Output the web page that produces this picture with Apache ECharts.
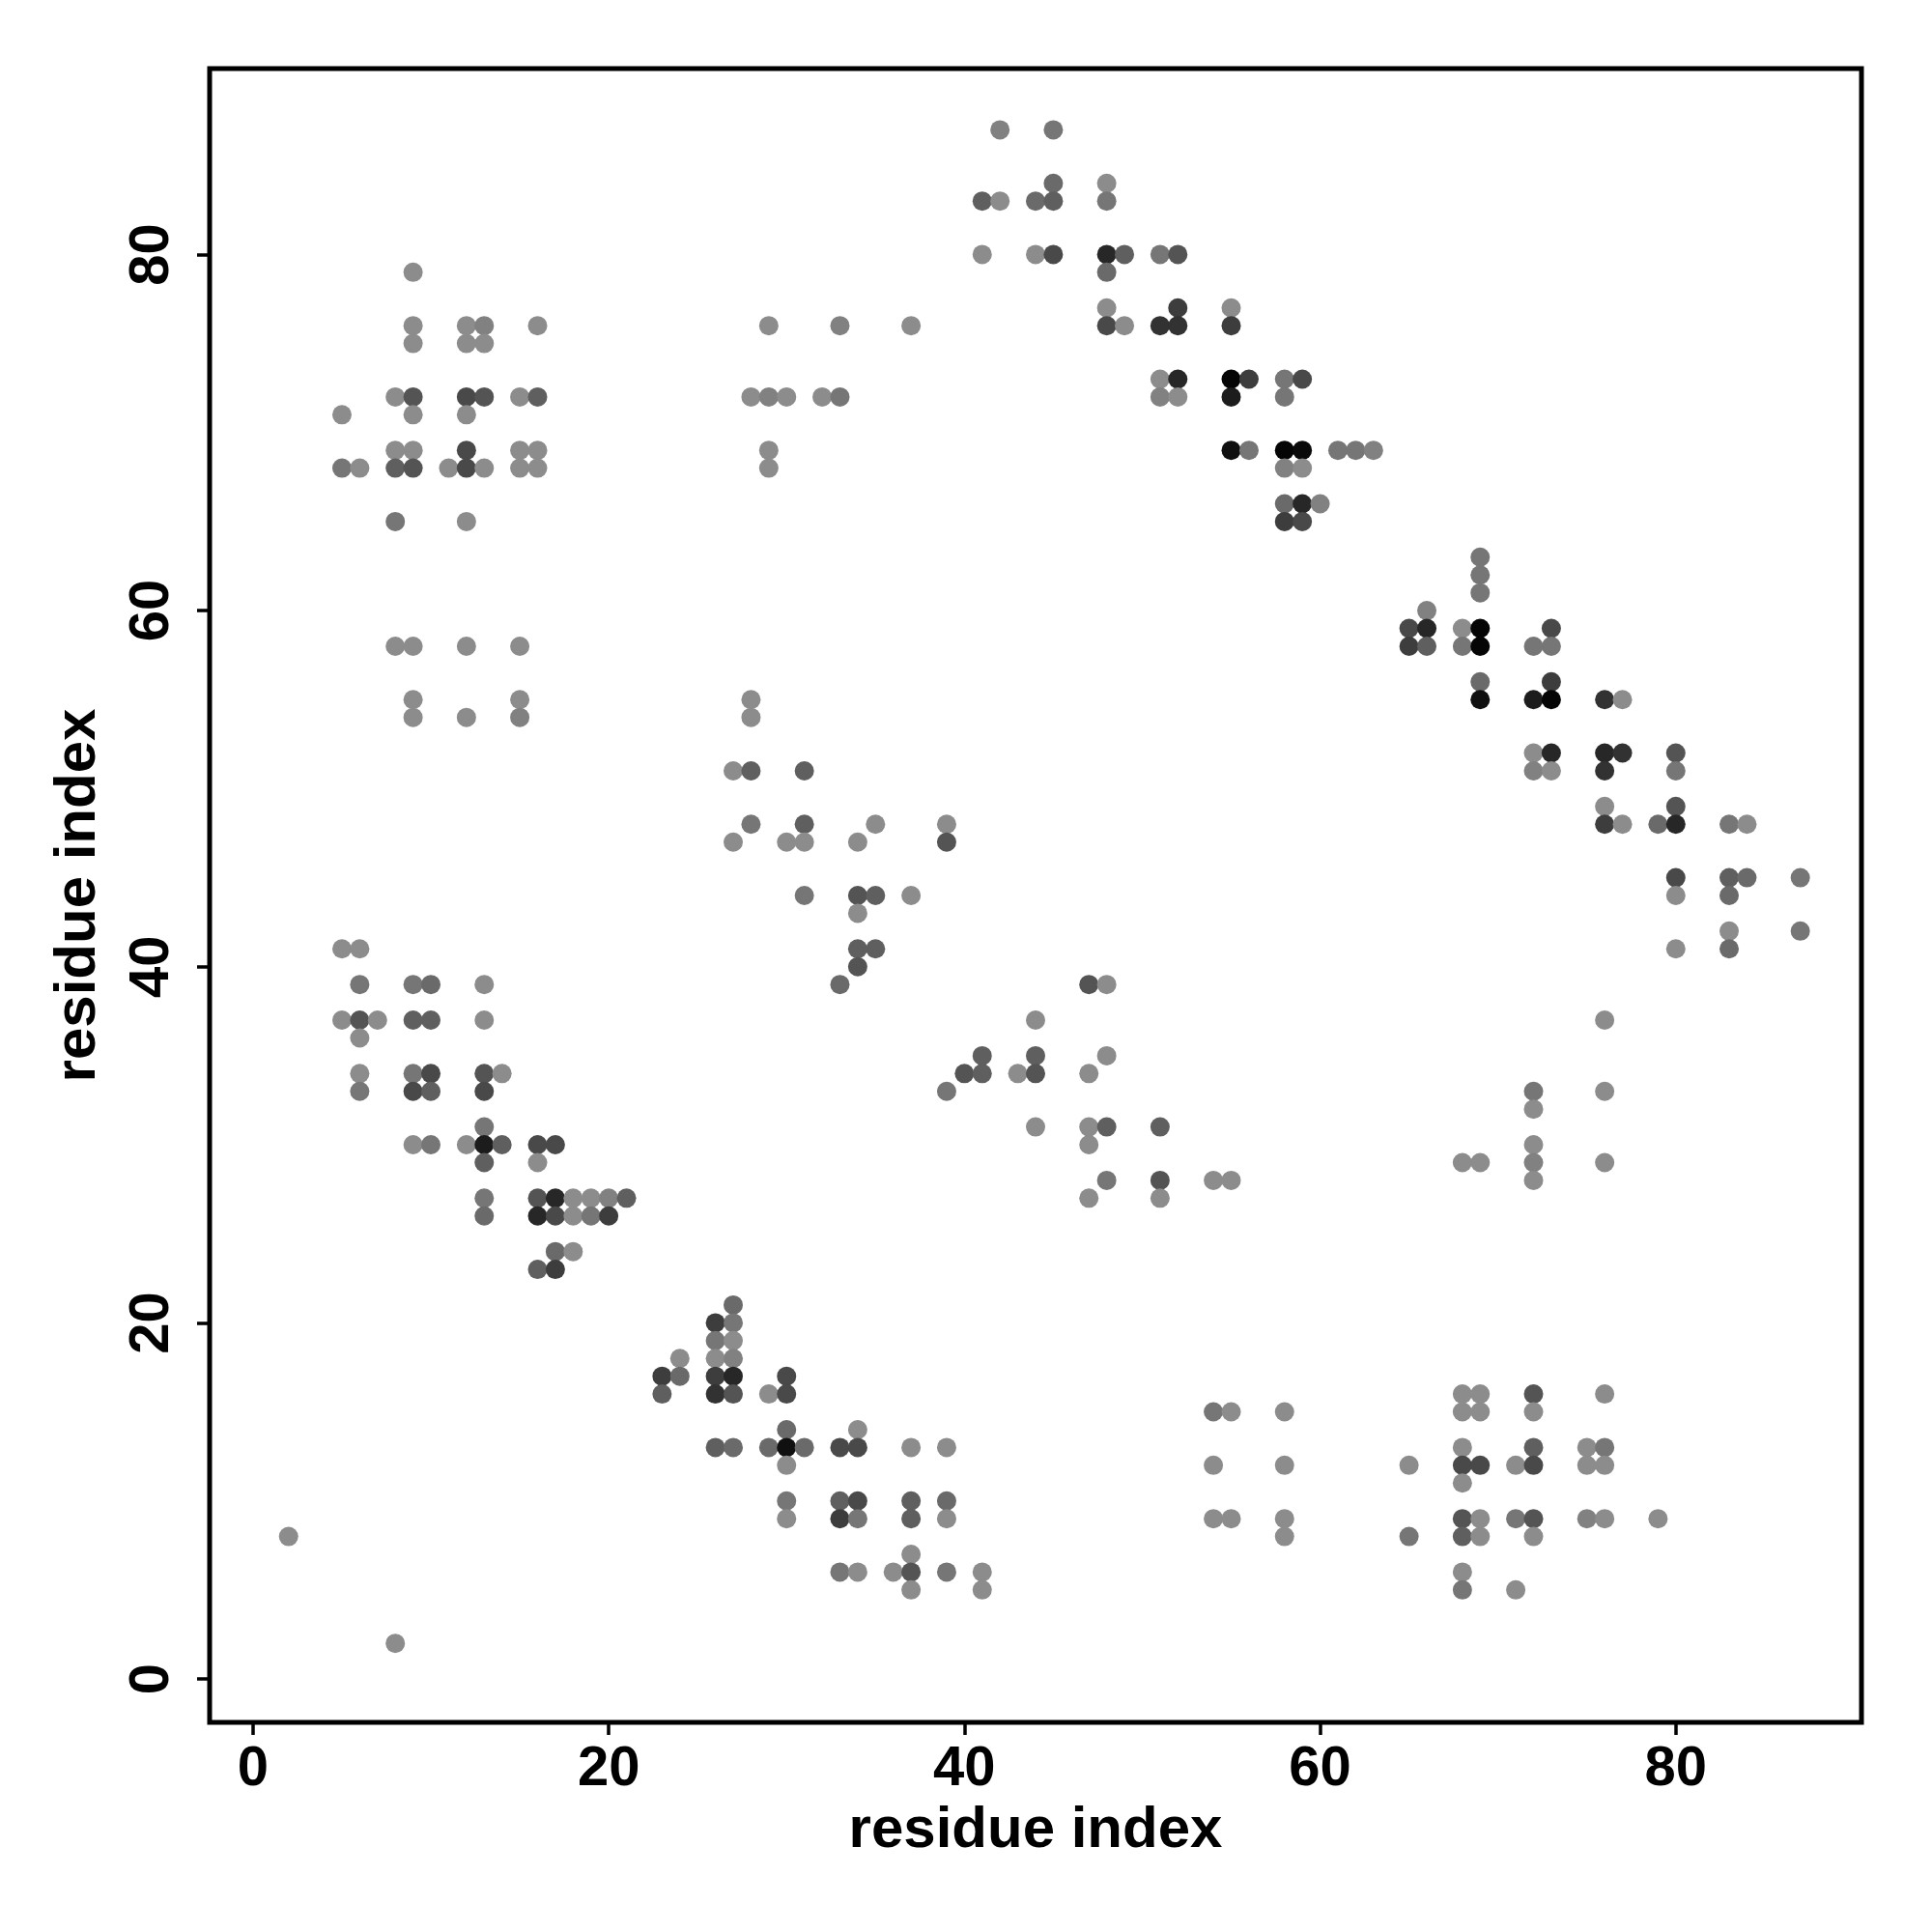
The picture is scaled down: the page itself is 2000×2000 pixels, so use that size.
<!DOCTYPE html>
<html>
<head>
<meta charset="utf-8">
<script src="https://cdn.jsdelivr.net/npm/echarts@6/dist/echarts.min.js"></script>
<style>
html,body{margin:0;padding:0;background:#fff;}
#chart{width:2000px;height:2000px;}
</style>
</head>
<body>
<div id="chart"></div>
<script>
// [residue i, residue j, contact weight]
const contacts = [
[2,8,1],
[5,71,1],[5,68,2],[5,41,1],[5,37,1],
[6,68,1],[6,41,1],[6,39,2],[6,37,3.5],[6,36,1],[6,34,1],[6,33,2],
[7,37,1],
[8,72,1],[8,69,1],[8,68,3],[8,65,2],[8,58,1],[8,2,1],
[9,79,1],[9,76,1],[9,75,1],[9,72,3.5],[9,71,1],[9,69,1],[9,68,3.5],[9,58,1],[9,55,1],[9,54,1],[9,39,2],[9,37,3],[9,34,2],[9,33,4],[9,30,1],
[10,39,2.5],[10,37,3],[10,34,4],[10,33,3],[10,30,2],
[11,68,1],
[12,76,1],[12,75,1],[12,72,4],[12,71,1],[12,69,4],[12,68,4],[12,65,1],[12,58,1],[12,54,1],[12,30,1],
[13,76,1.5],[13,75,1],[13,72,3.5],[13,68,1],[13,39,1],[13,37,1],[13,34,3.5],[13,33,4],[13,31,2],[13,30,6],[13,29,3],[13,27,2],[13,26,2.5],
[14,34,1],[14,30,3],
[15,72,1],[15,69,1],[15,68,1],[15,58,1],[15,55,1],[15,54,1.5],
[16,76,1],[16,72,3],[16,69,1],[16,68,1],[16,30,4],[16,29,1],[16,27,3.5],[16,26,5.5],[16,23,3],
[17,30,4],[17,27,5.5],[17,26,4],[17,24,2.5],[17,23,4.5],
[18,27,1],[18,26,1],[18,24,1],
[19,27,1],[19,26,2],
[20,27,1.5],[20,26,4.5],
[21,27,3],
[23,17,4.5],[23,16,3],
[24,18,1],[24,17,2.5],
[26,20,4.5],[26,19,2],[26,18,1],[26,17,4.5],[26,16,5],[26,13,3],
[27,51,1],[27,47,1],[27,21,2.5],[27,20,2],[27,19,1],[27,18,1.5],[27,17,5.5],[27,16,3.5],[27,13,2.5],
[28,72,1],[28,55,1],[28,54,1],[28,51,3],[28,48,2],
[29,76,1],[29,72,1.5],[29,69,1],[29,68,1],[29,16,1],[29,13,2.5],
[30,72,1],[30,47,1],[30,17,4],[30,16,4],[30,14,2.5],[30,13,6.5],[30,12,1],[30,10,2],[30,9,1],
[31,51,3],[31,48,3],[31,47,1],[31,44,2],[31,13,2.5],
[32,72,1],
[33,76,1.5],[33,72,2],[33,39,2.5],[33,13,4],[33,10,3],[33,9,4.5],[33,6,2],
[34,47,1],[34,44,3.5],[34,43,1],[34,41,3],[34,40,3.5],[34,14,1],[34,13,4],[34,10,4],[34,9,2],[34,6,1],
[35,48,1],[35,44,3],[35,41,3],
[36,6,1],
[37,76,1],[37,44,1],[37,13,1],[37,10,3],[37,9,3],[37,7,1],[37,6,3.5],[37,5,1],
[39,48,1],[39,47,3.5],[39,33,2],[39,13,1],[39,10,2.5],[39,9,1],[39,6,2],
[40,34,3.5],
[41,83,3],[41,80,1],[41,35,3],[41,34,3],[41,6,1],[41,5,1],
[42,87,1.5],[42,83,1],
[43,34,1],
[44,83,2.5],[44,80,1],[44,37,1],[44,35,3],[44,34,3.5],[44,31,1],
[45,87,2],[45,84,2.5],[45,83,3],[45,80,4],
[47,39,3.5],[47,34,1],[47,31,1],[47,30,1],[47,27,1],
[48,84,1],[48,83,2],[48,80,5.5],[48,79,2.5],[48,77,1],[48,76,4],[48,39,1],[48,35,1],[48,31,3],[48,28,2],
[49,80,3],[49,76,1],
[51,80,2],[51,76,5],[51,73,1],[51,72,1.5],[51,31,3],[51,28,3.5],[51,27,1],
[52,80,3.5],[52,77,4.5],[52,76,5],[52,73,5.5],[52,72,1],
[54,28,1],[54,15,2],[54,12,1],[54,9,1],
[55,77,1],[55,76,4.5],[55,73,7],[55,72,6],[55,69,6.5],[55,28,1],[55,15,1],[55,9,1],
[56,73,4.5],[56,69,2],
[58,73,2],[58,72,2],[58,69,7],[58,68,1.5],[58,66,2.5],[58,65,4.5],[58,15,1],[58,12,1],[58,9,1],[58,8,1],
[59,73,4],[59,69,6.8],[59,68,1],[59,66,5.5],[59,65,4],
[60,66,1.5],
[61,69,2],[62,69,2],[63,69,1.5],
[65,59,4],[65,58,4.5],[65,12,1],[65,8,2],
[66,60,1.5],[66,59,5.5],[66,58,3],
[68,59,1],[68,58,2],[68,29,1],[68,16,1],[68,15,1],[68,13,1],[68,12,4],[68,11,1],[68,9,3.5],[68,8,3],[68,6,1],[68,5,2],
[69,63,2],[69,62,2],[69,61,2],[69,59,7],[69,58,7],[69,56,2.5],[69,55,6.5],[69,29,1],[69,16,1],[69,15,1],[69,12,4],[69,9,1],[69,8,1],
[71,12,1],[71,9,2],[71,5,1],
[72,58,2],[72,55,6],[72,52,1],[72,51,1.5],[72,33,2],[72,32,1],[72,30,1],[72,29,1.5],[72,28,1],[72,16,3.5],[72,15,1],[72,13,3],[72,12,4],[72,9,3.5],[72,8,1],
[73,59,4],[73,58,2],[73,56,4.5],[73,55,7],[73,52,5.5],[73,51,1],
[75,13,1],[75,12,1],[75,9,1.5],
[76,55,5],[76,52,5.5],[76,51,5],[76,49,1],[76,48,4.5],[76,37,1],[76,33,1],[76,29,1],[76,16,1],[76,13,2],[76,12,1],[76,9,1],
[77,55,1],[77,52,5],[77,48,1],
[79,48,2.5],[79,9,1],
[80,52,3.5],[80,51,2],[80,49,3.5],[80,48,5.5],[80,45,4],[80,44,1],[80,41,1],
[83,48,2],[83,45,3],[83,44,2.5],[83,42,1],[83,41,2.5],
[84,48,1],[84,45,2.5],
[87,45,2],[87,42,2]
];
const tickValues = [0, 20, 40, 60, 80];
const axisRange = [-2.44, 90.44];
const xTitle = 'residue index';
const yTitle = 'residue index';

const FONT = '"Liberation Sans", Arial, Helvetica, sans-serif';
const chart = echarts.init(document.getElementById('chart'), null, {renderer: 'canvas'});
const axisCommon = {
  type: 'value',
  min: axisRange[0],
  max: axisRange[1],
  splitLine: {show: false},
  axisLine: {show: false, onZero: false},
  axisTick: {show: true, inside: false, length: 13, lineStyle: {color: '#000', width: 3.5}, customValues: tickValues},
  nameLocation: 'middle',
  nameTextStyle: {fontFamily: FONT, fontWeight: 'bold', fontSize: 60, color: '#000'}
};
chart.setOption({
  animation: false,
  backgroundColor: '#fff',
  grid: {left: 217, right: 73, top: 71, bottom: 217, show: true, borderColor: '#000', borderWidth: 5, backgroundColor: 'transparent'},
  xAxis: Object.assign({}, axisCommon, {
    name: xTitle, nameGap: 78,
    axisLabel: {customValues: tickValues, margin: 20, fontFamily: FONT, fontWeight: 'bold', fontSize: 58, color: '#000'}
  }),
  yAxis: Object.assign({}, axisCommon, {
    name: yTitle, nameGap: 106,
    axisLabel: {customValues: tickValues, rotate: 90, margin: 30, fontFamily: FONT, fontWeight: 'bold', fontSize: 58, color: '#000'}
  }),
  visualMap: {show: false, type: 'continuous', dimension: 2, min: 1, max: 7, inRange: {color: ['#8c8c8c', '#050505']}},
  series: [{
    type: 'scatter',
    data: contacts,
    symbol: 'circle',
    symbolSize: 20,
    itemStyle: {opacity: 1}
  }]
});
</script>
</body>
</html>
